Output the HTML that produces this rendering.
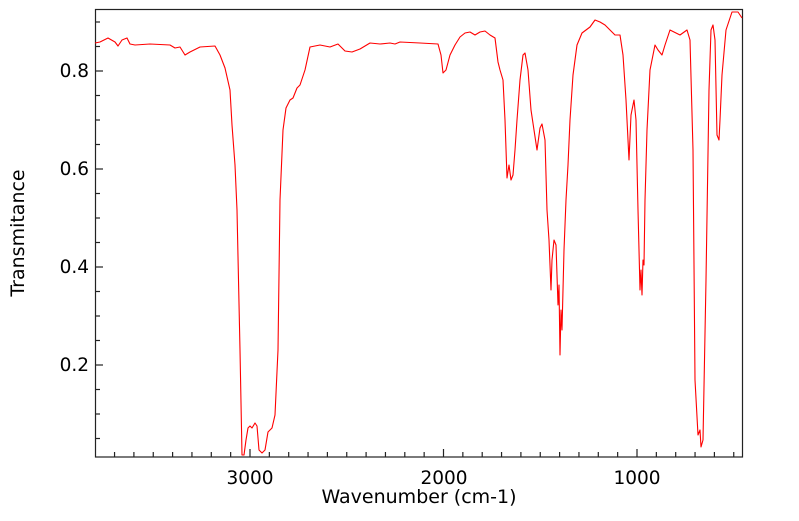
<!DOCTYPE html>
<html><head><meta charset="utf-8"><style>
body{margin:0;background:#fff;width:799px;height:516px;overflow:hidden}
svg text{font-family:"DejaVu Sans","Liberation Sans",sans-serif;fill:#000}
</style></head><body>
<svg id="s" width="799" height="516" viewBox="0 0 799 516">
<rect x="95.5" y="9.5" width="647" height="447.5" fill="none" stroke="#222" stroke-width="1.2"/>
<g id="ticks" stroke="#222" stroke-width="1.2"></g>
<polyline fill="none" stroke="#ff0000" stroke-width="1.1" stroke-linejoin="round" points="95,43 100,42 108,38 115,42 118,46 122,40 127,38 130,44 135,45 150,44 170,45 175,48 180,47 185,55 190,52 200,47 215,46 220,55 225,68 230,90 232,125 235,165 237,210 240,350 242,455 244,455 246,440 248,428 250,426 252,428 255,423 257,426 259,450 262,453 265,450 268,432 272,428 275,415 278,350 280,200 283,130 286,108 290,100 293,98 297,88 300,85 305,70 310,47 320,45 330,47 338,44 345,51 352,52 360,49 370,43 380,44 390,43 395,44 400,42 420,43 438,44 441,55 443,73 446,70 450,55 455,45 460,37 465,33 470,32 475,35 480,32 485,31 490,35 495,38 498,62 500,70 503,80 505,120 507,178 509,165 511,180 513,175 515,150 517,120 520,80 523,55 525,53 528,70 531,110 534,130 537,150 540,128 542,124 545,140 547,210 549,240 551,290 552,260 554,240 556,245 558,305 559,285 560,355 561,310 562,330 564,250 566,200 568,165 570,120 573,75 577,45 582,33 590,27 595,20 600,22 605,25 610,30 615,35 620,35 623,55 626,100 629,160 631,115 634,100 636,120 638,210 640,290 641,270 642,295 643,260 644,265 645,200 647,130 650,70 655,45 658,50 662,55 665,45 670,30 680,35 687,30 690,40 693,150 695,380 698,435 700,430 701,447 703,440 706,280 709,90 711,30 713,25 715,40 717,135 719,140 720,120 722,75 726,30 732,12 738,12 742,18"/>
<g font-size="18.5" text-anchor="middle">
<text x="250" y="484">3000</text><text x="444" y="484">2000</text><text x="637" y="484">1000</text>
</g>
<text font-size="19" text-anchor="middle" x="419" y="503">Wavenumber (cm-1)</text>
<g font-size="18.5" text-anchor="end">
<text x="89" y="77">0.8</text><text x="89" y="175">0.6</text><text x="89" y="273">0.4</text><text x="89" y="371">0.2</text>
</g>
<text font-size="19" text-anchor="middle" transform="translate(24,233) rotate(-90)">Transmitance</text>
</svg>
<script>
var g=document.getElementById('ticks'),h='';
for(var w=3800;w>=500;w-=100){var x=250+(3000-w)*0.1935;if(x<96||x>741)continue;var L=(w%1000==0)?8:5;h+='<line x1="'+x+'" y1="457" x2="'+x+'" y2="'+(457-L)+'"/>';}
for(var t=0.05;t<0.93;t+=0.05){var y=71+(0.8-t)*490;if(y<11||y>456)continue;var m=Math.abs(t*10-Math.round(t*10))<0.01&&Math.round(t*10)%2==0;h+='<line x1="95" y1="'+y+'" x2="'+(95+(m?8:5))+'" y2="'+y+'"/>';}
g.innerHTML=h;
</script>
</body></html>
